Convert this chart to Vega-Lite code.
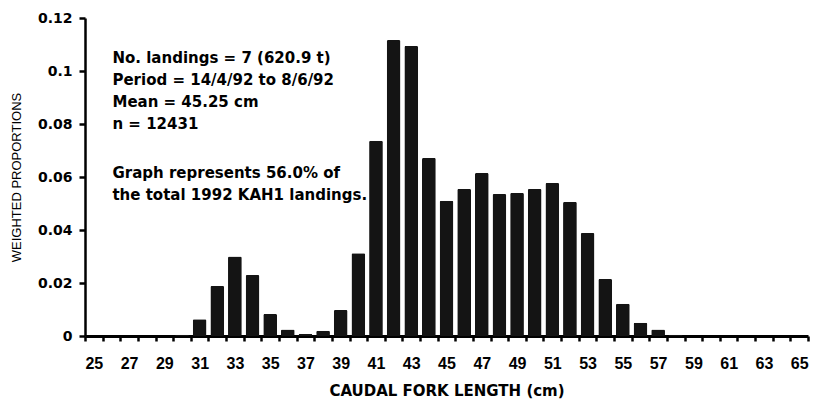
{
  "$schema": "https://vega.github.io/schema/vega-lite/v6.json",
  "width": 723,
  "height": 318,
  "autosize": {"type": "none"},
  "padding": {"left": 85, "top": 18, "right": 5, "bottom": 66},
  "background": "white",
  "config": {
    "view": {"stroke": null},
    "font": "DejaVu Sans",
    "axis": {
      "grid": false,
      "domainColor": "black",
      "tickColor": "black",
      "labelColor": "black",
      "titleColor": "black"
    },
    "axisX": {
      "tickBand": "extent",
      "labelAngle": 0,
      "labelOverlap": false,
      "labelExpr": "datum.value % 2 == 1 ? datum.label : ''",
      "labelFont": "Liberation Sans",
      "labelFontSize": 16,
      "labelFontWeight": "bold",
      "labelPadding": 14,
      "tickSize": 5,
      "tickWidth": 2.5,
      "domainWidth": 3,
      "titleFont": "DejaVu Sans",
      "titleFontSize": 15,
      "titleFontWeight": "bold",
      "titlePadding": 12
    },
    "axisY": {
      "values": [0, 0.02, 0.04, 0.06, 0.08, 0.1, 0.12],
      "format": "~f",
      "labelFont": "DejaVu Sans",
      "labelFontSize": 14,
      "labelFontWeight": "bold",
      "labelPadding": 7,
      "tickSize": 6,
      "tickWidth": 2.5,
      "domainWidth": 2.5,
      "titleFont": "Liberation Sans",
      "titleFontSize": 13,
      "titleFontWeight": "normal",
      "titlePadding": 14
    }
  },
  "datasets": {
    "lengths": [
      {"length": 25, "proportion": 0},
      {"length": 26, "proportion": 0},
      {"length": 27, "proportion": 0},
      {"length": 28, "proportion": 0},
      {"length": 29, "proportion": 0},
      {"length": 30, "proportion": 0.0005},
      {"length": 31, "proportion": 0.0063},
      {"length": 32, "proportion": 0.0189},
      {"length": 33, "proportion": 0.0300},
      {"length": 34, "proportion": 0.0230},
      {"length": 35, "proportion": 0.0083},
      {"length": 36, "proportion": 0.0025},
      {"length": 37, "proportion": 0.0008},
      {"length": 38, "proportion": 0.0020},
      {"length": 39, "proportion": 0.0098},
      {"length": 40, "proportion": 0.0312},
      {"length": 41, "proportion": 0.0737},
      {"length": 42, "proportion": 0.1117},
      {"length": 43, "proportion": 0.1094},
      {"length": 44, "proportion": 0.0672},
      {"length": 45, "proportion": 0.0510},
      {"length": 46, "proportion": 0.0555},
      {"length": 47, "proportion": 0.0615},
      {"length": 48, "proportion": 0.0536},
      {"length": 49, "proportion": 0.0540},
      {"length": 50, "proportion": 0.0555},
      {"length": 51, "proportion": 0.0577},
      {"length": 52, "proportion": 0.0506},
      {"length": 53, "proportion": 0.0389},
      {"length": 54, "proportion": 0.0215},
      {"length": 55, "proportion": 0.0122},
      {"length": 56, "proportion": 0.0050},
      {"length": 57, "proportion": 0.0025},
      {"length": 58, "proportion": 0.0005},
      {"length": 59, "proportion": 0},
      {"length": 60, "proportion": 0},
      {"length": 61, "proportion": 0},
      {"length": 62, "proportion": 0},
      {"length": 63, "proportion": 0},
      {"length": 64, "proportion": 0},
      {"length": 65, "proportion": 0}
    ],
    "summary": [
      {"note": "No. landings = 7 (620.9 t)\nPeriod = 14/4/92 to 8/6/92\nMean = 45.25 cm\nn = 12431"}
    ],
    "coverage": [
      {"note": "Graph represents 56.0% of\nthe total 1992 KAH1 landings."}
    ]
  },
  "resolve": {"axis": {"x": "independent", "y": "independent"}},
  "layer": [
    {
      "data": {"name": "lengths"},
      "mark": {"type": "bar", "color": "#141414", "width": {"band": 0.78}, "cornerRadius": 1.5},
      "encoding": {
        "x": {
          "field": "length",
          "type": "ordinal",
          "scale": {"paddingInner": 0, "paddingOuter": 0},
          "axis": {"title": "CAUDAL FORK LENGTH (cm)", "orient": "bottom"}
        },
        "y": {
          "field": "proportion",
          "type": "quantitative",
          "scale": {"domain": [0, 0.12], "nice": false},
          "axis": {"title": "WEIGHTED PROPORTIONS", "orient": "left"}
        }
      }
    },
    {
      "data": {"name": "summary"},
      "mark": {
        "type": "text",
        "align": "left",
        "baseline": "top",
        "font": "DejaVu Sans",
        "fontSize": 15,
        "fontWeight": "bold",
        "lineBreak": "\n",
        "lineHeight": 22,
        "dx": 1,
        "color": "black"
      },
      "encoding": {
        "text": {"field": "note"},
        "x": {"datum": 26, "type": "ordinal", "axis": null},
        "y": {"datum": 0.1075, "type": "quantitative", "axis": null}
      }
    },
    {
      "data": {"name": "coverage"},
      "mark": {
        "type": "text",
        "align": "left",
        "baseline": "top",
        "font": "DejaVu Sans",
        "fontSize": 15,
        "fontWeight": "bold",
        "lineBreak": "\n",
        "lineHeight": 22,
        "dx": 1,
        "color": "black"
      },
      "encoding": {
        "text": {"field": "note"},
        "x": {"datum": 26, "type": "ordinal", "axis": null},
        "y": {"datum": 0.0643, "type": "quantitative", "axis": null}
      }
    }
  ]
}
